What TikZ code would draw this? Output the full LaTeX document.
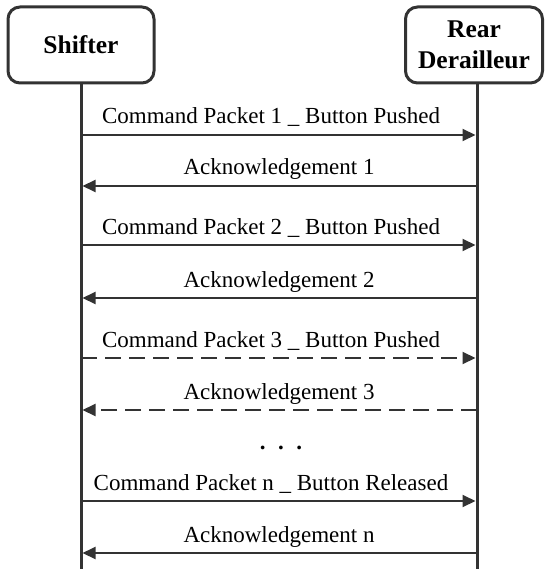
\documentclass[tikz,border=0pt]{standalone}
\usepackage{fontspec}
\setmainfont{Liberation Serif}
\usetikzlibrary{arrows.meta,positioning}
\definecolor{linegray}{HTML}{333333}

\begin{document}
\begin{tikzpicture}[x=1pt,y=-1pt,
  actor/.style={draw=linegray, line width=3pt, rounded corners=12pt, inner sep=0pt,
    minimum height=76pt, align=center, font=\bfseries\fontsize{25.5}{31}\selectfont},
  lifeline/.style={draw=linegray, line width=3pt},
  msg/.style={draw=linegray, line width=2pt, shorten >=1.5pt,
    -{Triangle[length=13pt,width=12pt]}},
  lossy/.style={msg, dash pattern=on 16pt off 8pt},
  lbl/.style={font=\fontsize{23}{28}\selectfont, inner sep=0pt, text depth=0pt, above=10pt}]
  \useasboundingbox (0,0) rectangle (544,569);

  % Define nodes
  \node[actor, minimum width=146pt] (shifter) at (81,45) {Shifter};
  \node[actor, minimum width=137pt] (rear) at (474,45) {Rear\\Derailleur};

  % Lifelines
  \coordinate (sbot) at (81,569);
  \coordinate (rbot) at (477,569);
  \draw[lifeline] (shifter) -- (sbot);
  \draw[lifeline] (rear.south -| rbot) -- (rbot);

  % Message points on the lifelines
  \foreach \y/\m in {135/c1,186/a1,245/c2,298/a2,358/c3,410/a3,501/cn,553/an} {
    \coordinate (s\m) at (81,\y);
    \coordinate (r\m) at (477,\y);
  }

  % Connect the nodes
  \draw[msg] (sc1) -- node[lbl, xshift=-8pt] {Command Packet 1 \_ Button Pushed} (rc1);
  \draw[msg] (ra1) -- node[lbl] {Acknowledgement 1} (sa1);
  \draw[msg] (sc2) -- node[lbl, xshift=-8pt] {Command Packet 2 \_ Button Pushed} (rc2);
  \draw[msg] (ra2) -- node[lbl] {Acknowledgement 2} (sa2);
  \draw[lossy] (sc3) -- node[lbl, xshift=-8pt] {Command Packet 3 \_ Button Pushed} (rc3);
  \draw[lossy] (ra3) -- node[lbl] {Acknowledgement 3} (sa3);
  \node[font=\bfseries\fontsize{23}{28}\selectfont, inner sep=0pt] (dots) at (281,448)
    {.\hspace{12.5pt}.\hspace{12.5pt}.};
  \draw[msg] (scn) -- node[lbl, xshift=-8pt] {Command Packet n \_ Button Released} (rcn);
  \draw[msg] (ran) -- node[lbl] {Acknowledgement n} (san);

\end{tikzpicture}
\end{document}
